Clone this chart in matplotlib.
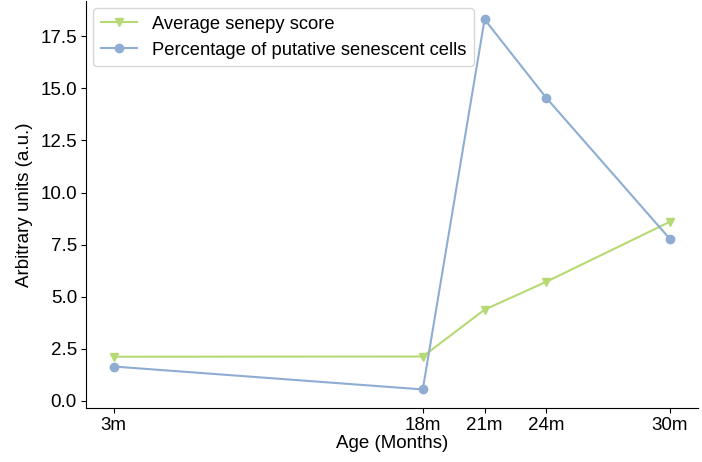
import matplotlib.pyplot as plt

plt.rcParams["font.family"] = ["Liberation Sans", "DejaVu Sans"]

months = [3, 18, 21, 24, 30]
tick_labels = ["3m", "18m", "21m", "24m", "30m"]
senepy_score = [2.12, 2.13, 4.38, 5.72, 8.6]
senescent_pct = [1.65, 0.55, 18.31, 14.54, 7.77]
y_ticks = [0, 2.5, 5, 7.5, 10, 12.5, 15, 17.5]

fig = plt.figure(figsize=(7.02, 4.62), dpi=100)
ax = fig.add_axes([0.1225, 0.117, 0.8715, 0.881])

ax.plot(months, senepy_score, marker="v", markersize=6, color="#b5da74",
        lw=1.5, label="Average senepy score")
ax.plot(months, senescent_pct, marker="o", markersize=6, color="#8fadd3",
        lw=1.5, label="Percentage of putative senescent cells")

ax.set_xticks(months)
ax.set_xticklabels(tick_labels)
ax.set_yticks(y_ticks)
ax.set_yticklabels([f"{v:.1f}" for v in y_ticks])
ax.tick_params(labelsize=13.5, pad=3)
ax.set_xlabel("Age (Months)", fontsize=13.5, labelpad=1)
ax.set_ylabel("Arbitrary units (a.u.)", fontsize=13.5, labelpad=5)
ax.spines["top"].set_visible(False)
ax.spines["right"].set_visible(False)
ax.legend(loc="upper left", fontsize=13.2, borderaxespad=0.4)

fig.savefig("out.png", dpi=100)
